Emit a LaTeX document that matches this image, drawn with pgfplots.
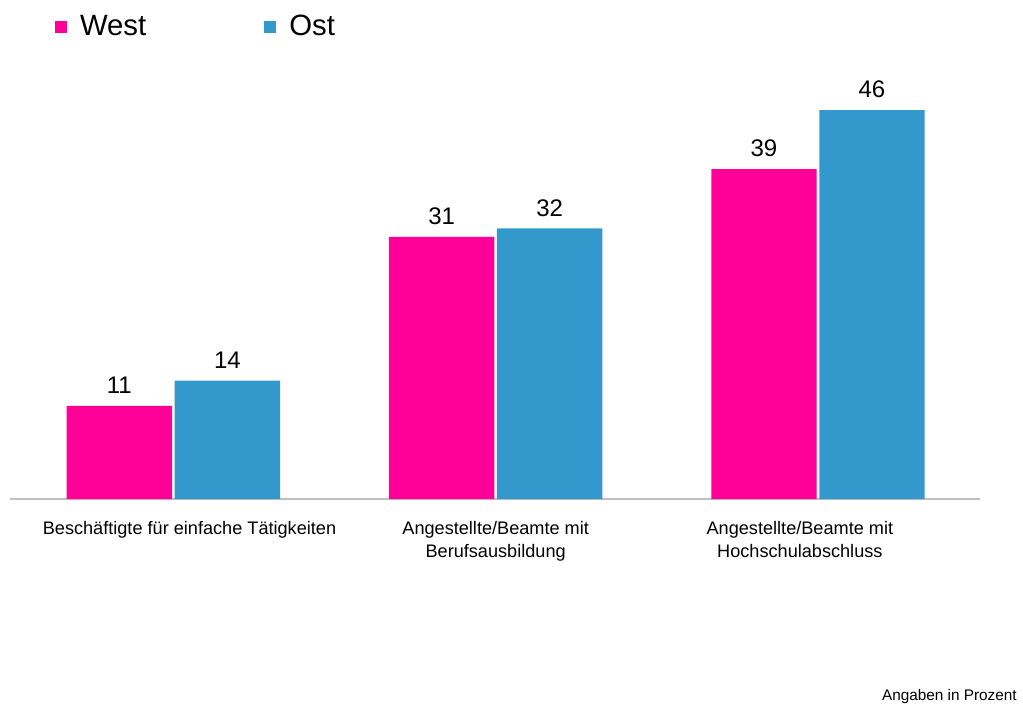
\documentclass[border=0pt]{standalone}
\usepackage{pgfplots}
\pgfplotsset{compat=1.18}
\usepackage{fontspec}
\setmainfont{Liberation Sans}
\definecolor{west}{HTML}{FF0099}
\definecolor{ost}{HTML}{3399CC}
\definecolor{axgray}{HTML}{BFBFBF}
\begin{document}
\begin{tikzpicture}[x=1pt,y=1pt]
\path[use as bounding box] (0,0) rectangle (767.25,528);
\begin{axis}[
  at={(7.5pt,153.75pt)}, anchor=south west,
  scale only axis, width=727.5pt, height=317.1pt,
  xmin=-0.507, xmax=2.503, ymin=0, ymax=50,
  axis x line=bottom, axis y line=none,
  axis line style={-, draw=axgray, line width=1.2pt},
  xtick={0.05,1,1.944}, major tick length=0pt,
  xticklabels={Beschäftigte für einfache Tätigkeiten, Angestellte/Beamte mit\\Berufsausbildung, Angestellte/Beamte mit\\Hochschulabschluss},
  xticklabel style={align=center, font=\fontsize{13.6}{17.25}\selectfont, yshift=-13pt},
  ybar, bar width=79pt, clip=false,
  nodes near coords,
  /pgf/number format/assume math mode=true,
  every node near coord/.append style={font=\fontsize{18}{20}\selectfont, black, yshift=5.5pt},
  legend columns=2,
  legend style={at={(0.042,1.157)}, anchor=north west, draw=none, fill=none, font=\fontsize{22}{26}\selectfont,
    /tikz/every odd column/.append style={column sep=7.75pt},
    /tikz/every even column/.append style={column sep=86.5pt}},
  legend image code/.code={\fill[#1] (0pt,-4.5pt) rectangle (9pt,4.5pt);},
]
\addplot[fill=west, draw=none, bar shift=-40.5pt] coordinates {(0,11) (1,31) (2,39)};
\addplot[fill=ost, draw=none, bar shift=40.5pt] coordinates {(0,14) (1,32) (2,46)};
\legend{West, Ost}
\end{axis}
\node[anchor=east, font=\fontsize{11.5}{13}\selectfont, inner sep=0pt] at (762.75,5.25) {Angaben in Prozent};
\end{tikzpicture}
\end{document}
